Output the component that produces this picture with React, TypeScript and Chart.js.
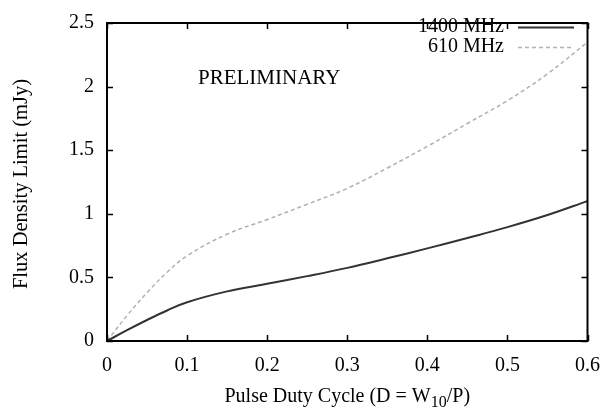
import React, { useEffect, useRef } from "react";
import { Chart, registerables } from "chart.js";
Chart.register(...registerables);

const dutyCycle = [0, 0.025, 0.05, 0.075, 0.1, 0.15, 0.2, 0.25, 0.3, 0.35, 0.4, 0.45, 0.5, 0.55, 0.6];
const flux1400 = [0, 0.085, 0.165, 0.24, 0.305, 0.39, 0.45, 0.51, 0.575, 0.65, 0.728, 0.81, 0.895, 0.99, 1.1];
const flux610 = [0, 0.2, 0.38, 0.54, 0.67, 0.84, 0.955, 1.075, 1.2, 1.36, 1.53, 1.71, 1.89, 2.1, 2.35];
const seriesNames = ["1400 MHz", "610 MHz"];
const xTickValues = [0, 0.1, 0.2, 0.3, 0.4, 0.5, 0.6];
const yTickValues = [0, 0.5, 1, 1.5, 2, 2.5];
const xTitleParts = ["Pulse Duty Cycle (D = W", "10", "/P)"];
const yTitle = "Flux Density Limit (mJy)";
const annotation = "PRELIMINARY";

const FONT = "'Liberation Serif', 'DejaVu Serif', serif";
const SOLID = "#333333";
const DASHED = "#b0b0b0";

export default function App() {
  const ref = useRef<HTMLCanvasElement | null>(null);
  useEffect(() => {
    document.body.style.margin = "0";
    const canvas = ref.current!;
    const framePlugin = {
      id: "frame",
      afterDraw(chart: any) {
        const ctx = chart.ctx as CanvasRenderingContext2D;
        const a = chart.chartArea;
        const xs = chart.scales.x;
        const ys = chart.scales.y;
        ctx.save();
        ctx.strokeStyle = "#000";
        ctx.lineWidth = 1.5;
        const tl = 6;
        ctx.beginPath();
        for (const v of xTickValues) {
          const px = Math.round(xs.getPixelForValue(v)) + 0.5;
          ctx.moveTo(px, a.bottom);
          ctx.lineTo(px, a.bottom - tl);
          ctx.moveTo(px, a.top);
          ctx.lineTo(px, a.top + tl);
        }
        for (const v of yTickValues) {
          const py = Math.round(ys.getPixelForValue(v)) + 0.5;
          ctx.moveTo(a.left, py);
          ctx.lineTo(a.left + tl, py);
          ctx.moveTo(a.right, py);
          ctx.lineTo(a.right - tl, py);
        }
        ctx.stroke();
        ctx.lineWidth = 2;
        ctx.strokeRect(a.left, a.top, a.right - a.left, a.bottom - a.top);
        // legend
        ctx.font = `20px ${FONT}`;
        ctx.fillStyle = "#000";
        ctx.textAlign = "right";
        ctx.textBaseline = "middle";
        const rows = [
          { name: seriesNames[0], color: SOLID, dash: [] as number[], y: 27 },
          { name: seriesNames[1], color: DASHED, dash: [4, 3], y: 47 },
        ];
        for (const r of rows) {
          ctx.fillText(r.name, 504, r.y);
          ctx.strokeStyle = r.color;
          ctx.lineWidth = r.dash.length ? 1.5 : 2;
          ctx.setLineDash(r.dash);
          ctx.beginPath();
          ctx.moveTo(518, r.y + 0.5);
          ctx.lineTo(574, r.y + 0.5);
          ctx.stroke();
        }
        ctx.setLineDash([]);
        // annotation
        ctx.font = `21px ${FONT}`;
        ctx.textAlign = "left";
        ctx.textBaseline = "alphabetic";
        ctx.fillText(annotation, 198, 84);
        // x title with subscript
        const mainFont = `20px ${FONT}`;
        const subFont = `16px ${FONT}`;
        ctx.font = mainFont;
        const w0 = ctx.measureText(xTitleParts[0]).width;
        const w2 = ctx.measureText(xTitleParts[2]).width;
        ctx.font = subFont;
        const w1 = ctx.measureText(xTitleParts[1]).width;
        const total = w0 + w1 + w2;
        const x0 = (a.left + a.right) / 2 - total / 2;
        const base = 402;
        ctx.font = mainFont;
        ctx.fillText(xTitleParts[0], x0, base);
        ctx.font = subFont;
        ctx.fillText(xTitleParts[1], x0 + w0, base + 5);
        ctx.font = mainFont;
        ctx.fillText(xTitleParts[2], x0 + w0 + w1, base);
        // y title
        ctx.save();
        ctx.translate(22, (a.top + a.bottom) / 2 + 2);
        ctx.rotate(-Math.PI / 2);
        ctx.font = `20.5px ${FONT}`;
        ctx.textAlign = "center";
        ctx.textBaseline = "middle";
        ctx.fillText(yTitle, 0, 0);
        ctx.restore();
        ctx.restore();
      },
    };
    const chart = new Chart(canvas, {
      type: "line",
      data: {
        datasets: [
          {
            label: seriesNames[0],
            data: dutyCycle.map((x, i) => ({ x, y: flux1400[i] })),
            borderColor: SOLID,
            borderWidth: 2,
            pointRadius: 0,
            tension: 0.4,
            fill: false,
          },
          {
            label: seriesNames[1],
            data: dutyCycle.map((x, i) => ({ x, y: flux610[i] })),
            borderColor: DASHED,
            borderWidth: 1.5,
            borderDash: [4, 3],
            pointRadius: 0,
            tension: 0.4,
            fill: false,
          },
        ],
      },
      options: {
        responsive: false,
        animation: false,
        layout: { padding: { top: 11, right: 16, left: 0, bottom: 0 } },
        plugins: { legend: { display: false }, tooltip: { enabled: false } },
        scales: {
          x: {
            type: "linear",
            min: 0,
            max: 0.6,
            afterBuildTicks: (s: any) => {
              s.ticks = xTickValues.map((v) => ({ value: v }));
            },
            ticks: {
              color: "#000",
              font: { family: FONT, size: 20, lineHeight: 1 },
              padding: 15,
              maxRotation: 0,
              callback: (v: any) => String(v),
            },
            grid: { display: false, drawTicks: false },
            border: { display: false },
            afterFit: (s: any) => {
              s.height = 68;
            },
          },
          y: {
            type: "linear",
            min: 0,
            max: 2.5,
            afterBuildTicks: (s: any) => {
              s.ticks = yTickValues.map((v) => ({ value: v }));
            },
            ticks: {
              color: "#000",
              font: { family: FONT, size: 20, lineHeight: 1 },
              padding: 13,
              callback: (v: any) => String(v),
            },
            grid: { display: false, drawTicks: false },
            border: { display: false },
            afterFit: (s: any) => {
              s.width = 107;
            },
          },
        },
      },
      plugins: [framePlugin],
    } as any);
    return () => chart.destroy();
  }, []);
  return (
    <div style={{ width: 615, height: 409, background: "#fff" }}>
      <canvas ref={ref} width={615} height={409} />
    </div>
  );
}
